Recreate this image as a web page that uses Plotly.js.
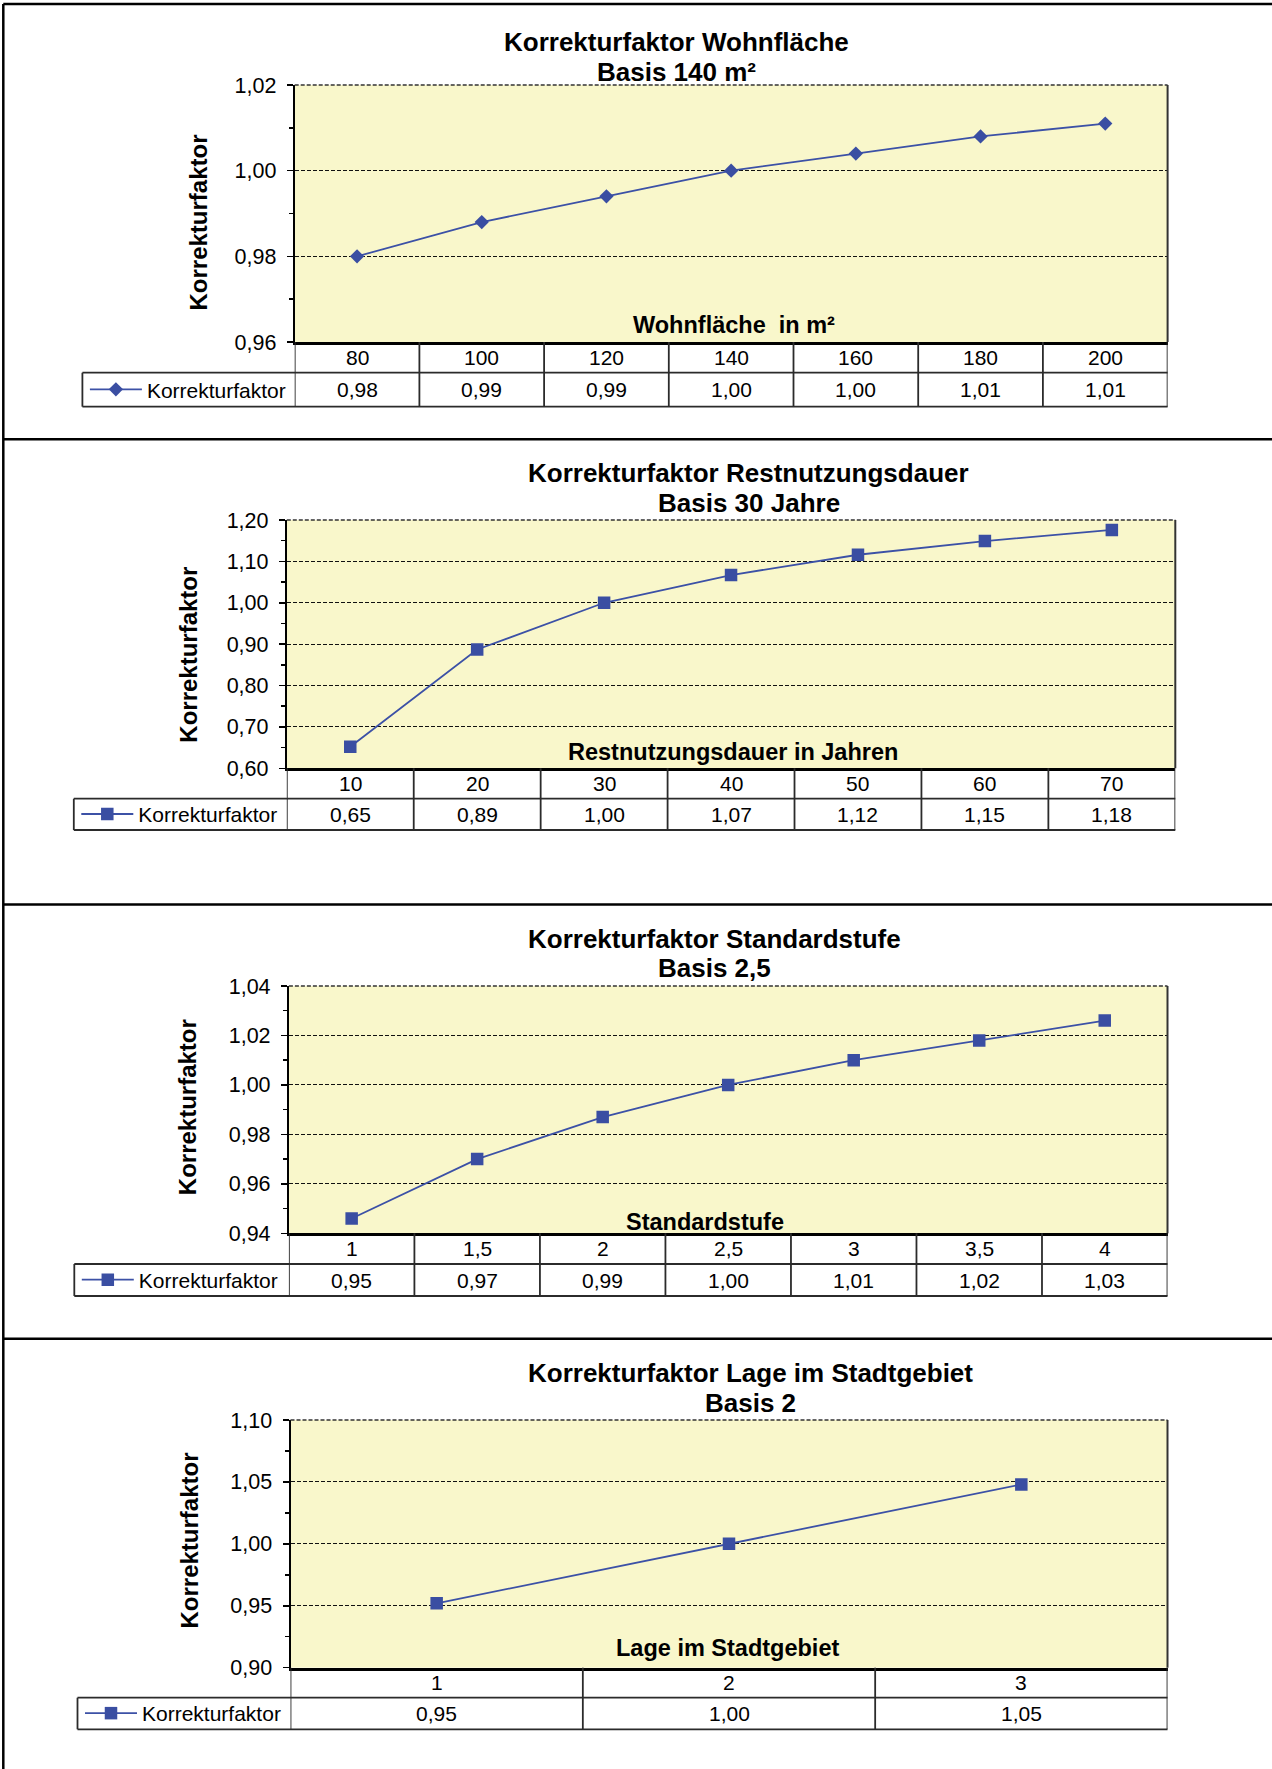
<!DOCTYPE html>
<html>
<head>
<meta charset="utf-8">
<script src="https://cdn.plot.ly/plotly-3.0.1.min.js"></script>
<style>
  html, body { margin: 0; padding: 0; background: #ffffff; }
  #chart { width: 1272px; height: 1769px; }
</style>
</head>
<body>
<div id="chart"></div>
<script>
// ---------------- DATA ----------------
const wohnCats = ['80', '100', '120', '140', '160', '180', '200'];
const wohnVals = [0.980, 0.988, 0.994, 1.000, 1.004, 1.008, 1.011];

const restCats = ['10', '20', '30', '40', '50', '60', '70'];
const restVals = [0.652, 0.887, 1.000, 1.067, 1.116, 1.149, 1.176];

const stdCats = ['1', '1,5', '2', '2,5', '3', '3,5', '4'];
const stdVals = [0.946, 0.970, 0.987, 1.000, 1.010, 1.018, 1.026];

const lageCats = ['1', '2', '3'];
const lageVals = [0.952, 1.000, 1.048];

const seriesName = 'Korrekturfaktor';
const titles1 = ['Korrekturfaktor Wohnfläche', 'Korrekturfaktor Restnutzungsdauer', 'Korrekturfaktor Standardstufe', 'Korrekturfaktor Lage im Stadtgebiet'];
const titles2 = ['Basis 140 m²', 'Basis 30 Jahre', 'Basis 2,5', 'Basis 2'];
const xTitles = ['Wohnfläche&nbsp;&nbsp;in m²', 'Restnutzungsdauer in Jahren', 'Standardstufe', 'Lage im Stadtgebiet'];
const yTitle = 'Korrekturfaktor';

// ---------------- LAYOUT GEOMETRY (pixels) ----------------
const W = 1272, H = 1769;
const X = p => p / W;
const Y = p => 1 - p / H;

const panels = [
  { cats: wohnCats, vals: wohnVals, sym: 'diamond', msize: 11,
    L: 294.7, R: 1167.6, T: 85, B: 342, r1: 372.7, r2: 406.7, legL: 82.4,
    range: [0.96, 1.02], dtick: 0.02, minor: 0.01,
    t1y: 41.7, t2y: 71.7, tx: 676.5, xtx: 734, xty: 325, ytx: 198, yty: 222.5 },
  { cats: restCats, vals: restVals, sym: 'square', msize: 12.5,
    L: 286.8, R: 1175.3, T: 520, B: 768.3, r1: 798.7, r2: 830, legL: 73.8,
    range: [0.60, 1.20], dtick: 0.1, minor: 0.05,
    t1y: 473.3, t2y: 503.3, tx: 749, xtx: 733, xty: 751.7, ytx: 187.7, yty: 655 },
  { cats: stdCats, vals: stdVals, sym: 'square', msize: 12.5,
    L: 288.9, R: 1167.5, T: 986, B: 1233.3, r1: 1264, r2: 1296, legL: 74.3,
    range: [0.94, 1.04], dtick: 0.02, minor: 0.01,
    t1y: 939.3, t2y: 968.3, tx: 714.5, xtx: 705, xty: 1221.7, ytx: 187.7, yty: 1107.5 },
  { cats: lageCats, vals: lageVals, sym: 'square', msize: 12.5,
    L: 290.5, R: 1167.5, T: 1420, B: 1667.7, r1: 1697.7, r2: 1729.3, legL: 77.5,
    range: [0.90, 1.10], dtick: 0.05, minor: 0.025,
    t1y: 1373.3, t2y: 1402.7, tx: 750, xtx: 727, xty: 1648.3, ytx: 189.7, yty: 1540.8 }
];

const FONT = 'Liberation Sans, Arial, Helvetica, sans-serif';
const lineColor = '#3C51A6';
const markerColor = '#3A4EA2';
const tableLine = '#2b2b2b';
const fmt = v => v.toFixed(2).replace('.', ',');

const data = [];
const shapes = [];
const annotations = [];
const layout = {
  width: W, height: H,
  margin: { l: 0, r: 0, t: 0, b: 0, pad: 0 },
  paper_bgcolor: '#ffffff',
  plot_bgcolor: '#F9F7CB',
  separators: ',.',
  showlegend: true,
  font: { family: FONT, color: '#000', size: 21 }
};

panels.forEach((p, i) => {
  const n = i + 1;
  const xa = n === 1 ? 'x' : 'x' + n;
  const ya = n === 1 ? 'y' : 'y' + n;
  const xKey = n === 1 ? 'xaxis' : 'xaxis' + n;
  const yKey = n === 1 ? 'yaxis' : 'yaxis' + n;
  const legKey = n === 1 ? 'legend' : 'legend' + n;

  data.push({
    type: 'scatter', mode: 'lines+markers',
    x: p.cats, y: p.vals, name: seriesName,
    xaxis: xa, yaxis: ya, legend: legKey,
    line: { color: lineColor, width: 1.8 },
    marker: { symbol: p.sym, size: p.msize, color: markerColor, line: { width: 0 } },
    hoverinfo: 'skip'
  });

  layout[xKey] = {
    domain: [X(p.L), X(p.R)], anchor: ya,
    type: 'category', categoryorder: 'array', categoryarray: p.cats,
    range: [-0.5, p.cats.length - 0.5],
    showticklabels: false, ticks: '', showgrid: false, zeroline: false,
    showline: true, linecolor: '#000', linewidth: 3, fixedrange: true
  };
  layout[yKey] = {
    domain: [Y(p.B), Y(p.T)], anchor: xa,
    range: p.range, tick0: p.range[0], dtick: p.dtick, tickformat: '.2f',
    ticks: 'outside', ticklen: 6, tickwidth: 1.5, tickcolor: '#000',
    ticklabelstandoff: 6,
    tickfont: { family: FONT, size: 21.5, color: '#000' },
    showline: true, linecolor: '#000', linewidth: 2,
    showgrid: true, gridcolor: '#111', gridwidth: 1, griddash: '4px,2px',
    zeroline: false, fixedrange: true,
    minor: { dtick: p.minor, tick0: p.range[0], ticks: 'outside', ticklen: 4, tickwidth: 1.5, tickcolor: '#000', showgrid: false }
  };
  layout[legKey] = {
    x: X(p.legL + 2.5), xanchor: 'left',
    y: Y((p.r1 + p.r2) / 2), yanchor: 'middle',
    bgcolor: 'rgba(0,0,0,0)', borderwidth: 0,
    itemwidth: 52,
    font: { family: FONT, size: 21, color: '#000' }
  };

  // plot area top (dashed) and right border
  shapes.push({ type: 'line', xref: 'paper', yref: 'paper', x0: X(p.L), x1: X(p.R), y0: Y(p.T), y1: Y(p.T),
    line: { color: '#333', width: 1.5, dash: '4px,2px' } });
  shapes.push({ type: 'line', xref: 'paper', yref: 'paper', x0: X(p.R), x1: X(p.R), y0: Y(p.T), y1: Y(p.B),
    line: { color: '#333', width: 2 } });

  // data table: vertical cell borders at category boundaries
  for (let k = 0; k <= p.cats.length; k++) {
    shapes.push({ type: 'line', xref: xa, yref: 'paper', x0: k - 0.5, x1: k - 0.5, y0: Y(p.r2), y1: Y(p.B),
      line: { color: tableLine, width: 1.8 } });
  }
  shapes.push({ type: 'line', xref: 'paper', yref: 'paper', x0: X(p.legL), x1: X(p.R), y0: Y(p.r1), y1: Y(p.r1),
    line: { color: tableLine, width: 1.8 } });
  shapes.push({ type: 'line', xref: 'paper', yref: 'paper', x0: X(p.legL), x1: X(p.R), y0: Y(p.r2), y1: Y(p.r2),
    line: { color: tableLine, width: 1.8 } });
  shapes.push({ type: 'line', xref: 'paper', yref: 'paper', x0: X(p.legL), x1: X(p.legL), y0: Y(p.r1), y1: Y(p.r2),
    line: { color: tableLine, width: 1.8 } });

  // table texts (placed at the category index on the category axis)
  p.cats.forEach((c, k) => {
    annotations.push({ xref: xa, yref: 'paper', x: k, y: Y((p.B + p.r1) / 2), text: c, showarrow: false,
      xanchor: 'center', yanchor: 'middle', font: { family: FONT, size: 21, color: '#000' } });
    annotations.push({ xref: xa, yref: 'paper', x: k, y: Y((p.r1 + p.r2) / 2), text: fmt(p.vals[k]), showarrow: false,
      xanchor: 'center', yanchor: 'middle', font: { family: FONT, size: 21, color: '#000' } });
  });

  // titles
  annotations.push({ xref: 'paper', yref: 'paper', x: X(p.tx), y: Y(p.t1y), text: '<b>' + titles1[i] + '</b>', showarrow: false,
    xanchor: 'center', yanchor: 'middle', font: { family: FONT, size: 26, color: '#000' } });
  annotations.push({ xref: 'paper', yref: 'paper', x: X(p.tx), y: Y(p.t2y), text: '<b>' + titles2[i] + '</b>', showarrow: false,
    xanchor: 'center', yanchor: 'middle', font: { family: FONT, size: 26, color: '#000' } });
  // x axis title (inside plot area)
  annotations.push({ xref: 'paper', yref: 'paper', x: X(p.xtx), y: Y(p.xty), text: '<b>' + xTitles[i] + '</b>', showarrow: false,
    xanchor: 'center', yanchor: 'middle', font: { family: FONT, size: 23.5, color: '#000' } });
  // y axis title
  annotations.push({ xref: 'paper', yref: 'paper', x: X(p.ytx), y: Y(p.yty), text: '<b>' + yTitle + '</b>', showarrow: false,
    textangle: -90, xanchor: 'center', yanchor: 'middle', font: { family: FONT, size: 24, color: '#000' } });
});

// outer frame and panel separators
const frameY = [4, 439.3, 904.5, 1338.8];
frameY.forEach(fy => {
  shapes.push({ type: 'line', xref: 'paper', yref: 'paper', x0: X(3.3), x1: 1, y0: Y(fy), y1: Y(fy),
    line: { color: '#000', width: 2.5 } });
});
shapes.push({ type: 'line', xref: 'paper', yref: 'paper', x0: X(3.3), x1: X(3.3), y0: Y(4), y1: 0,
  line: { color: '#000', width: 2.5 } });

layout.shapes = shapes;
layout.annotations = annotations;

Plotly.newPlot('chart', data, layout, { displayModeBar: false, staticPlot: true });
</script>
</body>
</html>
